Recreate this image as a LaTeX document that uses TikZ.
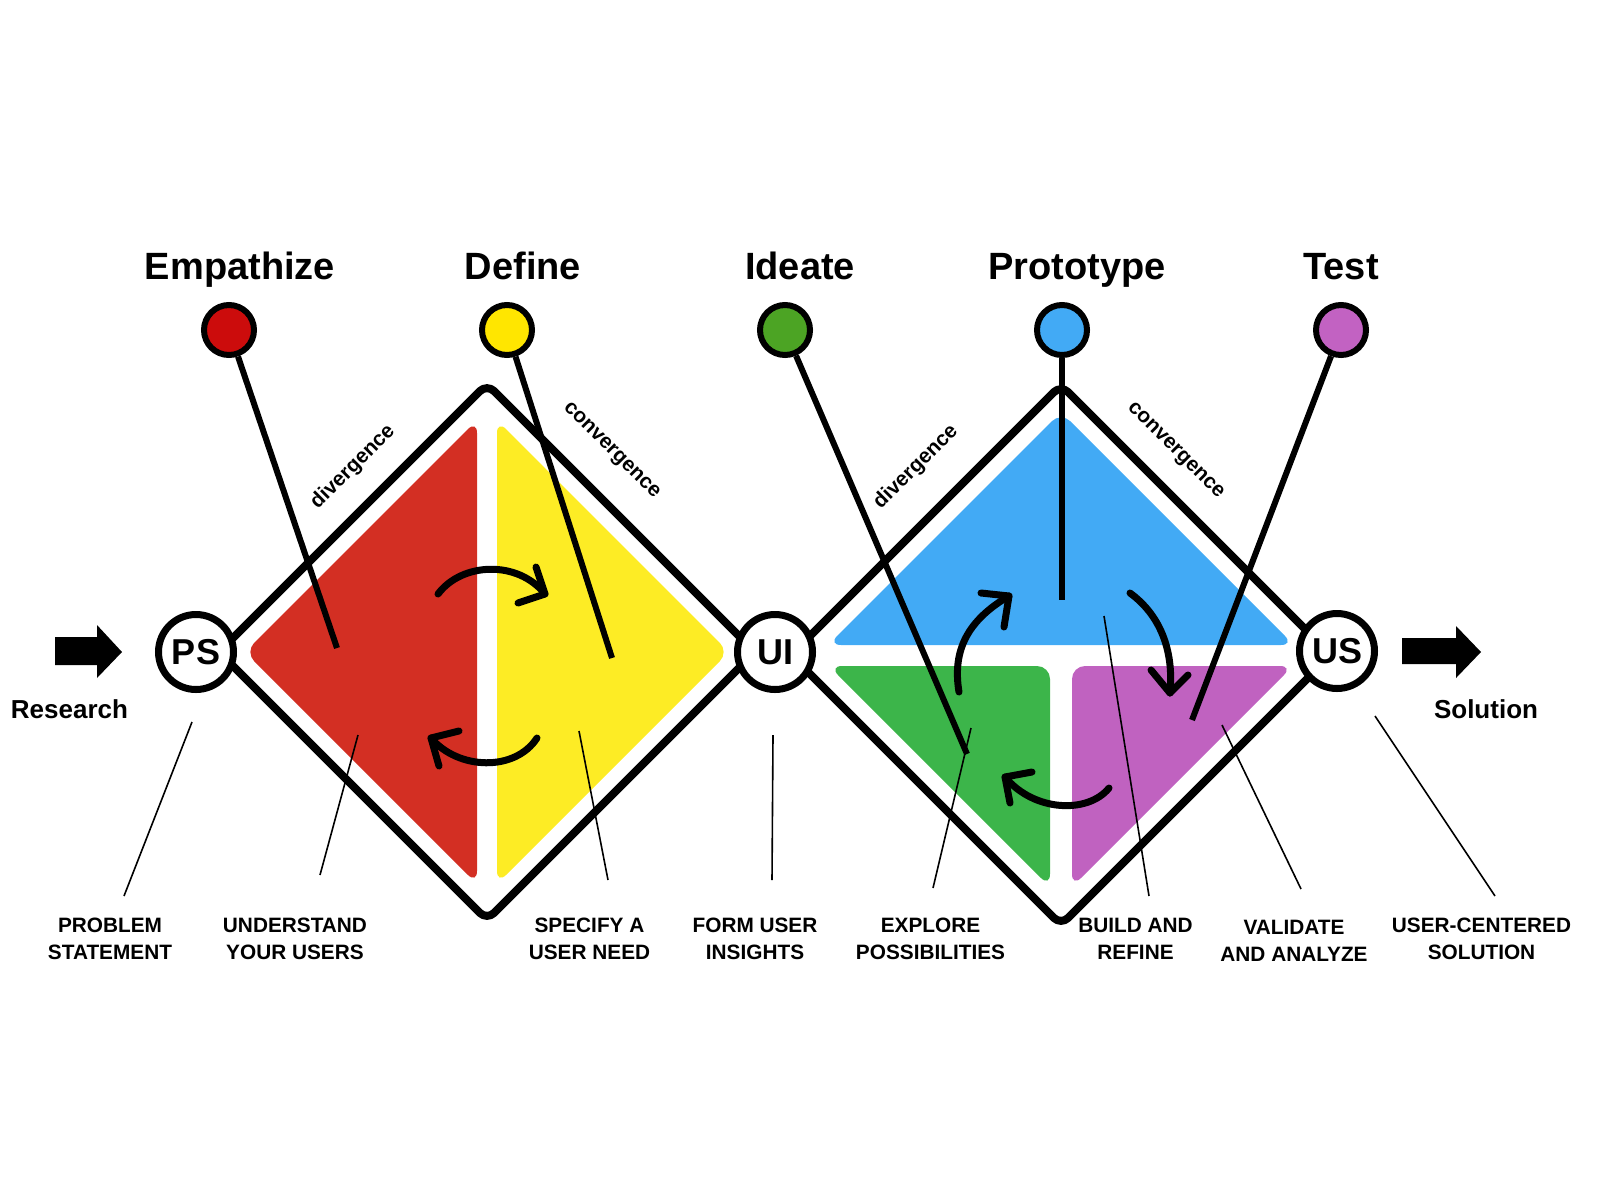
\documentclass[tikz,border=0pt]{standalone}
\usepackage{fontspec}
\setmainfont{Liberation Sans}
\definecolor{redfill}{HTML}{D32F23}
\definecolor{yellowfill}{HTML}{FDEC25}
\definecolor{bluefill}{HTML}{42AAF5}
\definecolor{greenfill}{HTML}{3CB54A}
\definecolor{purplefill}{HTML}{C062C0}
\definecolor{reddot}{HTML}{CC0C0C}
\definecolor{yellowdot}{HTML}{FFE600}
\definecolor{greendot}{HTML}{4CA424}
\definecolor{bluedot}{HTML}{42AAF5}
\definecolor{purpledot}{HTML}{C262C2}
\tikzset{
  outerline/.style={draw=black, line width=4pt, rounded corners=5pt, line join=round},
  fillshape/.style={rounded corners=6.5pt},
  stemline/.style={line width=3pt},
  dotnode/.style={circle, draw=black, line width=3pt, minimum size=25pt, inner sep=0pt},
  hubnode/.style={circle, draw=black, fill=white, line width=3.5pt, minimum size=37.5pt, inner sep=0pt, font=\fontsize{18}{20}\selectfont\bfseries},
  phasetitle/.style={anchor=base, inner sep=0pt, font=\fontsize{19}{23}\selectfont\bfseries},
  steplabel/.style={anchor=north, inner sep=0pt, align=center, font=\fontsize{10.4}{13.5}\selectfont\bfseries},
  leadline/.style={line width=0.8pt},
  cyclearrow/.style={line width=3.5pt, line cap=round, line join=round},
  sidetext/.style={inner sep=0pt, font=\fontsize{10.4}{12}\selectfont\bfseries},
  bigtext/.style={anchor=base, inner sep=0pt, font=\fontsize{13}{15}\selectfont\bfseries},
}
\begin{document}
\begin{tikzpicture}[x=0.5pt,y=-0.5pt]
\useasboundingbox (0,0) rectangle (1600,1200);

% ---------- inner fills, diamond 1 ----------
\fill[redfill, fillshape] (245,652) -- (477,420) -- (477,884) -- cycle;
\fill[yellowfill, fillshape] (497,420) -- (729,652) -- (497,884) -- cycle;
% ---------- inner fills, diamond 2 ----------
\fill[bluefill, fillshape] (828,645) -- (1061,412) -- (1294,645) -- cycle;
\fill[greenfill, fillshape] (829,666) -- (1050,666) -- (1050,887) -- cycle;
\fill[purplefill, fillshape] (1072,666) -- (1293,666) -- (1072,887) -- cycle;

% ---------- outlines ----------
\draw[outerline] (219,652) -- (487,384) -- (755,652) -- (487,920) -- cycle;
\draw[outerline] (791,655) -- (1061,385) -- (1331,655) -- (1061,925) -- cycle;

% ---------- side texts ----------
\node[sidetext, rotate=45] (div1) at (353,467) {divergence};
\node[sidetext, rotate=-45] (con1) at (611,451) {convergence};
\node[sidetext, rotate=45] (div2) at (916,467) {divergence};
\node[sidetext, rotate=-45] (con2) at (1175,451) {convergence};

% ---------- cycle arrows ----------
\draw[cyclearrow] (438,594) .. controls (462,562) and (518,560) .. (545,594);
\draw[cyclearrow] (536,567) -- (545,594) -- (518,603);
\draw[cyclearrow] (537,738) .. controls (515,772) and (458,770) .. (431,738);
\draw[cyclearrow] (459,731) -- (431,738) -- (439,766);
\draw[cyclearrow] (959,692) .. controls (952,650) and (968,620) .. (1009,596);
\draw[cyclearrow] (981,593) -- (1009,596) -- (1004,627);
\draw[cyclearrow] (1130,593) .. controls (1160,615) and (1174,650) .. (1170,693);
\draw[cyclearrow] (1151,670) -- (1170,693) -- (1188,675);
\draw[cyclearrow] (1109,788) .. controls (1088,814) and (1034,812) .. (1005,777);
\draw[cyclearrow] (1032,772) -- (1005,777) -- (1010,803);

% ---------- leader lines ----------
\coordinate (la1) at (192,722);  \coordinate (lb1) at (124,896);
\coordinate (la2) at (358,735);  \coordinate (lb2) at (320,875);
\coordinate (la3) at (579,731);  \coordinate (lb3) at (608,880);
\coordinate (la4) at (773,735);  \coordinate (lb4) at (772,880);
\coordinate (la5) at (971,728);  \coordinate (lb5) at (933,888);
\coordinate (la6) at (1104,616); \coordinate (lb6) at (1149,896);
\coordinate (la7) at (1222,725); \coordinate (lb7) at (1301,889);
\coordinate (la8) at (1375,716); \coordinate (lb8) at (1495,896);
\foreach \i in {1,...,8} { \draw[leadline] (la\i) -- (lb\i); }

% ---------- dots and stems ----------
\node[dotnode, fill=reddot] (d1) at (229,330) {};
\node[dotnode, fill=yellowdot] (d2) at (507,330) {};
\node[dotnode, fill=greendot] (d3) at (785,330) {};
\node[dotnode, fill=bluedot] (d4) at (1062,330) {};
\node[dotnode, fill=purpledot] (d5) at (1341,330) {};
\coordinate (e1) at (337,648);
\coordinate (e2) at (612,658);
\coordinate (e3) at (967,754);
\coordinate (e4) at (1062,600);
\coordinate (e5) at (1192,720);
\foreach \i in {1,...,5} { \draw[stemline] (d\i) -- (e\i); }

% ---------- hubs ----------
\node[hubnode] (ps) at (196,652) {PS};
\node[hubnode] (ui) at (775,652) {UI};
\node[hubnode] (us) at (1337,651) {US};

% ---------- block arrows ----------
\fill[black] (55,637) -- (97,637) -- (97,625) -- (122,652) -- (97,678) -- (97,665) -- (55,665) -- cycle;
\fill[black] (1402,638) -- (1456,638) -- (1456,626) -- (1481,652) -- (1456,678) -- (1456,664) -- (1402,664) -- cycle;
\node[bigtext] (research) at (69.5,718) {Research};
\node[bigtext] (solution) at (1486,718) {Solution};

% ---------- titles ----------
\node[phasetitle] (t1) at (240,279) {Empathize};
\node[phasetitle] (t2) at (523,279) {Define};
\node[phasetitle] (t3) at (800,279) {Ideate};
\node[phasetitle] (t4) at (1077,279) {Prototype};
\node[phasetitle] (t5) at (1341,279) {Test};

% ---------- bottom labels ----------
\node[steplabel] (s1) at (110,918) {PROBLEM\\STATEMENT};
\node[steplabel] (s2) at (295,918) {UNDERSTAND\\YOUR USERS};
\node[steplabel] (s3) at (589.5,918) {SPECIFY A\\USER NEED};
\node[steplabel] (s4) at (755,918) {FORM USER\\INSIGHTS};
\node[steplabel] (s5) at (930.5,918) {EXPLORE\\POSSIBILITIES};
\node[steplabel] (s6) at (1135.5,918) {BUILD AND\\REFINE};
\node[steplabel] (s7) at (1294,920) {VALIDATE\\AND ANALYZE};
\node[steplabel] (s8) at (1481.5,918) {USER-CENTERED\\SOLUTION};
\end{tikzpicture}
\end{document}
